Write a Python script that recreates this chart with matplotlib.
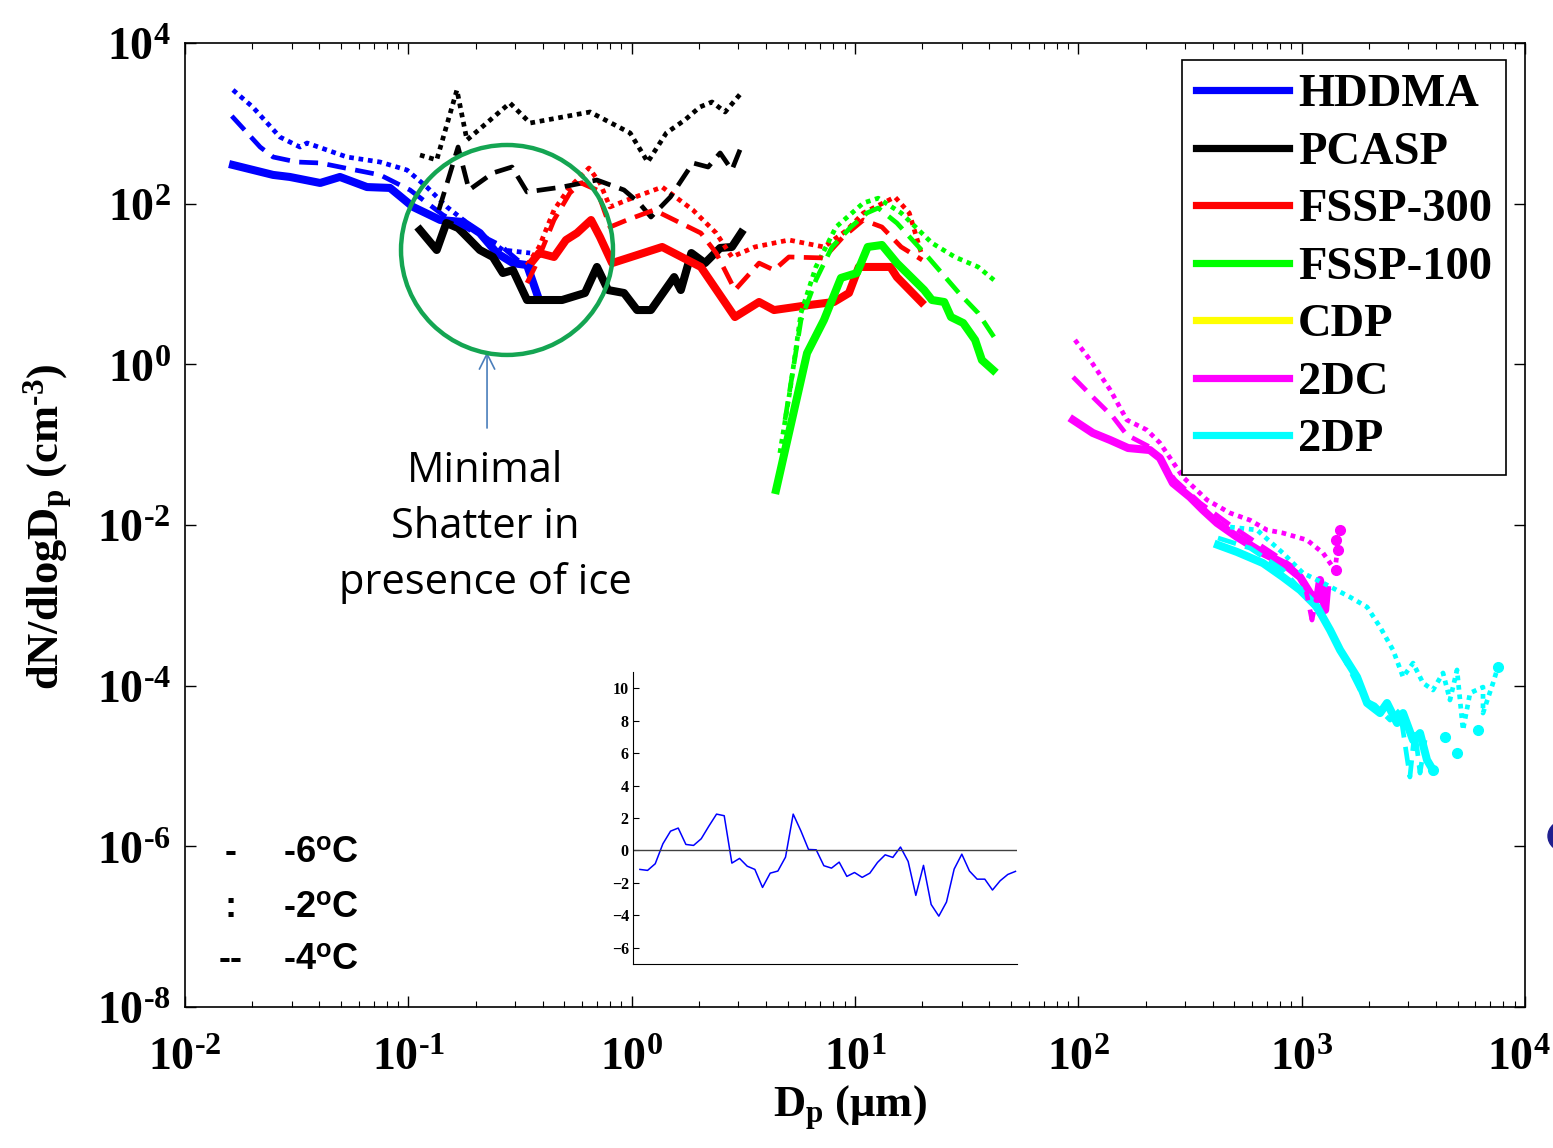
import numpy as np
import matplotlib
matplotlib.use("Agg")
import matplotlib.pyplot as plt
from matplotlib.lines import Line2D
from matplotlib.patches import Ellipse
from matplotlib.font_manager import FontProperties
from matplotlib.transforms import ScaledTranslation
from matplotlib.ticker import (FixedLocator, FuncFormatter, LogLocator,
                               NullLocator, NullFormatter)

plt.rcParams["mathtext.fontset"] = "custom"
plt.rcParams["mathtext.rm"] = "Liberation Serif:bold"
plt.rcParams["mathtext.bf"] = "Liberation Serif:bold"
plt.rcParams["mathtext.it"] = "Liberation Serif:bold"
plt.rcParams["mathtext.sf"] = "Liberation Sans:bold"

HYPHEN = "\u2010"

# ---------------- size distributions: Dp (um) and dN/dlogDp (cm^-3) ----------------
# suffix m6 = -6 C (solid), m2 = -2 C (dotted), m4 = -4 C (dashed)
hddma_dp_m6 = [0.0164, 0.0248, 0.0295, 0.0403, 0.0494, 0.0653, 0.0828, 0.105, 0.139,
               0.176, 0.209, 0.249, 0.294, 0.340, 0.381]
hddma_n_m6 = [303, 228, 215, 181, 215, 161, 157, 91, 62.6, 59.1, 43.1, 24.3, 18.2, 17.2, 6.89]
hddma_dp_m4 = [0.0162, 0.0217, 0.0248, 0.0317, 0.0403, 0.052, 0.0747, 0.1017, 0.143,
               0.189, 0.257, 0.316, 0.361]
hddma_n_m4 = [1233, 507, 381, 330, 321, 278, 228, 148, 72.3, 47, 30.6, 18.8, 15.8]
hddma_dp_m2 = [0.0164, 0.0201, 0.0266, 0.0327, 0.0352, 0.0531, 0.0747, 0.0987, 0.121,
               0.149, 0.209, 0.265, 0.351]
hddma_n_m2 = [2600, 1597, 676, 507, 569, 381, 330, 262, 161, 91, 43.1, 26.5, 24.3]

pcasp_dp_m6 = [0.1128, 0.134, 0.148, 0.167, 0.176, 0.209, 0.239, 0.265, 0.294, 0.340,
               0.488, 0.618, 0.699, 0.784, 0.924, 1.057, 1.22, 1.55, 1.66, 1.85, 2.13,
               2.49, 2.81, 3.09]
pcasp_n_m6 = [47, 26.5, 57.4, 49.8, 43.1, 26.5, 21.7, 13.7, 14.9, 6.32, 6.32, 7.73, 16.3,
              8.41, 7.73, 4.74, 4.74, 12.2, 8.41, 24.3, 18.2, 28.1, 28.9, 43.1]
pcasp_dp_m4 = [0.137, 0.167, 0.187, 0.239, 0.291, 0.340, 0.488, 0.699, 0.924, 1.08, 1.22,
               1.49, 1.88, 2.20, 2.49, 2.81, 3.09]
pcasp_n_m4 = [83.4, 507, 148, 241, 286, 140, 161, 197, 148, 102, 68.2, 121, 321, 286,
              428, 262, 507]
pcasp_dp_m2 = [0.1128, 0.134, 0.165, 0.183, 0.285, 0.351, 0.651, 0.984, 1.18, 1.43, 1.73,
               2.02, 2.29, 2.62, 3.12]
pcasp_n_m2 = [403, 350, 2600, 620, 1791, 1009, 1384, 759, 330, 759, 1100, 1597, 1845,
              1384, 2455]

fssp300_dp_m6 = [0.354, 0.385, 0.449, 0.508, 0.569, 0.658, 0.721, 0.817, 1.37, 2.04, 2.90,
                 3.72, 4.34, 6.22, 8.05, 9.40, 10.4, 14.4, 15.4, 19.8]
fssp300_n_m6 = [18.2, 24.3, 21.7, 35.3, 43.1, 62.6, 38.5, 18.2, 28.9, 16.3, 3.88, 5.97,
                4.74, 5.47, 5.97, 7.73, 16.3, 16.3, 12.2, 5.97]
fssp300_dp_m4 = [0.340, 0.369, 0.449, 0.529, 0.593, 0.699, 0.800, 0.953, 1.26, 2.04, 2.39,
                 2.90, 3.72, 4.34, 5.06, 7.26, 8.84, 10.9, 13.2, 16.1, 20.0]
fssp300_n_m4 = [10.3, 16.3, 62.6, 136, 181, 148, 51.2, 62.6, 83.4, 43.1, 24.3, 8.41, 18.2,
                14.9, 21.7, 21.1, 38.5, 62.6, 51.2, 28.9, 19.9]
fssp300_dp_m2 = [0.340, 0.385, 0.449, 0.529, 0.644, 0.721, 0.800, 0.953, 1.37, 1.88, 2.39,
                 2.81, 3.56, 5.06, 7.26, 9.21, 10.9, 15.1, 17.5, 19.8]
fssp300_n_m2 = [17.2, 28.9, 83.4, 161, 278, 181, 91, 111, 161, 83.4, 43.1, 21.7, 28.9,
                35.3, 28.9, 47, 76.5, 121, 76.5, 24.3]

fssp100_dp_m6 = [4.43, 6.10, 7.26, 8.65, 10.2, 11.4, 13.2, 15.4, 20.4, 22.1, 25.1, 26.9,
                 30.5, 34.5, 37.0, 41.5]
fssp100_n_m6 = [0.0272, 1.38, 3.56, 11.9, 13.7, 28.9, 30.6, 18.2, 8.41, 6.32, 5.97, 3.88,
                3.27, 2.01, 1.13, 0.849]
fssp100_dp_m4 = [4.86, 5.73, 6.68, 7.89, 9.59, 11.3, 12.7, 15.4, 21.2, 29.2, 35.6, 41.9]
fssp100_n_m4 = [0.203, 3.56, 11.2, 28.9, 51.2, 76.5, 88.3, 57.4, 21.7, 7.73, 4.35, 2.19]
fssp100_dp_m2 = [4.61, 5.12, 5.73, 6.68, 8.22, 10.9, 12.7, 16.1, 22.1, 28.0, 35.6, 41.9]
fssp100_n_m2 = [0.0787, 0.479, 4.35, 16.3, 51.2, 102, 117, 76.5, 32.4, 21.7, 16.3, 11.2]

twodc_dp_m6 = [94.7, 116, 139, 167, 209, 232, 265, 316, 361, 418, 514, 671, 824, 984,
               1090, 1172, 1208, 1274, 1297]
twodc_n_m6 = [0.203, 0.140, 0.114, 0.0908, 0.0857, 0.0682, 0.0333, 0.0223, 0.0154, 0.0106,
              0.00708, 0.00448, 0.00336, 0.00225, 0.00142, 0.00116, 0.00207, 0.000875,
              0.00155]
twodc_dp_m4 = [94.7, 116, 143, 165, 209, 271, 351, 478, 650, 887, 1035, 1112, 1183, 1274]
twodc_n_m4 = [0.695, 0.392, 0.221, 0.132, 0.0935, 0.0363, 0.0188, 0.0100, 0.00564,
              0.00318, 0.00179, 0.000656, 0.00155, 0.00101]
twodc_dp_m2 = [96.6, 113, 139, 165, 203, 232, 294, 377, 478, 587, 699, 824, 1057, 1247,
               1409, 1486]
twodc_n_m2 = [2.01, 1.13, 0.479, 0.203, 0.152, 0.105, 0.0396, 0.0205, 0.0141, 0.0115,
              0.00867, 0.00795, 0.0065, 0.00448, 0.00275, 0.00867]
twodc_pts_dp = [1486, 1426, 1455, 1426]
twodc_pts_n = [0.00867, 0.0065, 0.00485, 0.00275]

twodp_dp_m6 = [422, 514, 671, 824, 984, 1172, 1340, 1486, 1770, 1963, 2244, 2411, 2673,
               2844, 3153, 3388, 3640, 3873]
twodp_n_m6 = [0.00564, 0.00461, 0.00336, 0.00225, 0.00155, 0.000953, 0.000493, 0.000278,
              0.000128, 6.08e-5, 4.56e-5, 6.08e-5, 3.43e-5, 4.56e-5, 2.10e-5, 2.57e-5,
              1.19e-5, 8.9e-6]
twodp_dp_m4 = [422, 587, 824, 1090, 1340, 1644, 1922, 2130, 2487, 2754, 3053, 3212, 3388,
               3566]
twodp_n_m4 = [0.00689, 0.00516, 0.00275, 0.00116, 0.000493, 0.000157, 6.63e-5, 5.74e-5,
              3.73e-5, 4.98e-5, 7.3e-6, 2.81e-5, 8.17e-6, 2.10e-5]
twodp_dp_m2 = [478, 631, 824, 1014, 1247, 1644, 1963, 2244, 2565, 2844, 3153, 3494, 3873,
               4295, 4613, 4962, 5277, 5675, 6486, 6486, 7191, 7568]
twodp_n_m2 = [0.00944, 0.00867, 0.00448, 0.00252, 0.0019, 0.00127, 0.000953, 0.000537,
              0.000278, 0.000128, 0.000191, 0.000108, 8.83e-5, 0.000144, 6.63e-5,
              0.000157, 2.81e-5, 8.1e-5, 9.6e-5, 4.56e-5, 0.000108, 0.000171]
twodp_pts_dp = [7568, 6166, 4962, 4385, 3873]
twodp_pts_n = [0.000171, 2.81e-5, 1.45e-5, 2.30e-5, 8.9e-6]

# inset: residual series
residual = [-1.17, -1.23, -0.82, 0.41, 1.19, 1.38, 0.37, 0.31, 0.72, 1.50, 2.24, 2.14,
            -0.78, -0.49, -0.97, -1.17, -2.28, -1.40, -1.27, -0.41, 2.24, 1.21, 0.06,
            0.04, -0.94, -1.09, -0.72, -1.60, -1.36, -1.66, -1.40, -0.74, -0.27, -0.43,
            0.21, -0.68, -2.77, -0.92, -3.33, -4.05, -3.18, -1.15, -0.23, -1.27, -1.77,
            -1.77, -2.44, -1.87, -1.48, -1.29]
inset_ticks = [-6, -4, -2, 0, 2, 4, 6, 8, 10]

instruments = ["HDDMA", "PCASP", "FSSP-300", "FSSP-100", "CDP", "2DC", "2DP"]
colors = ["#0000ff", "#000000", "#ff0000", "#00ff00", "#ffff00", "#ff00ff", "#00ffff"]
temp_labels = ["-6", "-2", "-4"]
temp_marks = ["-", ":", "--"]
x_decades = [-2, -1, 0, 1, 2, 3, 4]
y_decades = [-8, -6, -4, -2, 0, 2, 4]

series = {
    "HDDMA": [(hddma_dp_m6, hddma_n_m6), (hddma_dp_m2, hddma_n_m2), (hddma_dp_m4, hddma_n_m4)],
    "PCASP": [(pcasp_dp_m6, pcasp_n_m6), (pcasp_dp_m2, pcasp_n_m2), (pcasp_dp_m4, pcasp_n_m4)],
    "FSSP-300": [(fssp300_dp_m6, fssp300_n_m6), (fssp300_dp_m2, fssp300_n_m2),
                 (fssp300_dp_m4, fssp300_n_m4)],
    "FSSP-100": [(fssp100_dp_m6, fssp100_n_m6), (fssp100_dp_m2, fssp100_n_m2),
                 (fssp100_dp_m4, fssp100_n_m4)],
    "2DC": [(twodc_dp_m6, twodc_n_m6), (twodc_dp_m2, twodc_n_m2), (twodc_dp_m4, twodc_n_m4)],
    "2DP": [(twodp_dp_m6, twodp_n_m6), (twodp_dp_m2, twodp_n_m2), (twodp_dp_m4, twodp_n_m4)],
}

W, H = 1553, 1148
fig = plt.figure(figsize=(W / 100, H / 100), dpi=100)
ax = fig.add_axes([185 / W, 141 / H, 1340 / W, 964 / H])
ax.set_xscale("log")
ax.set_yscale("log")

# solid = -6 C, dotted = -2 C, dashed = -4 C
styles = [dict(ls="-", lw=5.8),
          dict(ls=(0, (1, 1)), lw=3.4),
          dict(ls=(0, (4, 2)), lw=3.4)]
for k, st in enumerate(styles):
    for name in instruments:
        if name not in series:
            continue
        dp, n = series[name][k]
        ax.plot(dp, n, color=colors[instruments.index(name)], ls=st["ls"], lw=st["lw"],
                solid_joinstyle="round", dash_capstyle="butt", zorder=3 + k)

ax.plot(twodc_pts_dp, twodc_pts_n, ls="none", marker="o", ms=7, color="#ff00ff", zorder=5)
ax.plot(twodp_pts_dp, twodp_pts_n, ls="none", marker="o", ms=7, color="#00ffff", zorder=5)

ax.set_xlim(1e-2, 1e4)
ax.set_ylim(1e-8, 1e4)


def decade_label(v, pos):
    e = int(round(np.log10(v)))
    s = str(abs(e)) if e >= 0 else HYPHEN + str(abs(e))
    return r"$\mathbf{10^{%s}}$" % s


dec_fmt = FuncFormatter(decade_label)
ax.xaxis.set_major_locator(FixedLocator(10.0 ** np.array(x_decades)))
ax.xaxis.set_minor_locator(LogLocator(base=10, subs=np.arange(2, 10), numticks=20))
ax.xaxis.set_major_formatter(dec_fmt)
ax.xaxis.set_minor_formatter(NullFormatter())
ax.yaxis.set_major_locator(FixedLocator(10.0 ** np.array(y_decades)))
ax.yaxis.set_minor_locator(NullLocator())
ax.yaxis.set_major_formatter(dec_fmt)
ax.tick_params(which="both", direction="in", top=True, right=True, labelsize=33)
ax.tick_params(which="major", length=8, width=1.0)
ax.tick_params(which="minor", length=4, width=0.8)
ax.tick_params(axis="x", pad=20)
ax.tick_params(axis="y", pad=10)
for sp in ax.spines.values():
    sp.set_linewidth(1.2)

# keep the last x label inside the canvas
last = ax.xaxis.get_major_ticks()[-1].label1
last.set_transform(last.get_transform() + ScaledTranslation(-0.06, 0, fig.dpi_scale_trans))

# axis titles
fig.text(48 / W, 1 - 527 / H,
         r"dN/dlogD$_{\mathbf{p}}$ (cm$^{\mathbf{%s3}}$)" % HYPHEN, rotation=90,
         ha="center", va="center", family="Liberation Serif", weight="bold", size=32)
fig.text(850 / W, 1 - 1117 / H, r"D$_{\mathbf{p}}$ (μm)", ha="center", va="baseline",
         family="Liberation Serif", weight="bold", size=32)

# instrument legend
handles = [Line2D([], [], color=c, lw=5.2) for c in colors]
leg = ax.legend(handles, instruments, loc="upper right", bbox_to_anchor=(0.9858, 0.9824),
                borderaxespad=0, frameon=True, fancybox=False, framealpha=1,
                edgecolor="black", handlelength=2.0, handletextpad=0.2,
                labelspacing=0.32, borderpad=0.3,
                prop=FontProperties(family="Liberation Serif", weight="bold", size=33.5))
leg.get_frame().set_linewidth(1.2)
leg.set_zorder(10)

# temperature key
for i, (mark, t) in enumerate(zip(temp_marks, temp_labels)):
    yy = [0.160, 0.1027, 0.0488][i]
    ax.text(0.034, yy, mark, transform=ax.transAxes, ha="center", va="center",
            family="Liberation Sans", weight="bold", size=26)
    ax.text(0.073, yy, t + r"$^{\mathsf{o}}$C", transform=ax.transAxes, ha="left",
            va="center", family="Liberation Sans", weight="bold", size=26)

# annotation
ax.add_patch(Ellipse((0.2403, 0.7853), 0.1582, 0.2178, transform=ax.transAxes,
                     fill=False, edgecolor="#14a552", lw=3.2, zorder=8))
ax.annotate("", xy=(0.2254, 0.6795), xycoords="axes fraction", xytext=(0.2254, 0.6006),
            arrowprops=dict(arrowstyle="->,head_length=1.1,head_width=0.55",
                            color="#4a7ebb", lw=1.2, shrinkA=0, shrinkB=0,
                            mutation_scale=10))
ax.text(0.2239, 0.498, "Minimal\nShatter in\npresence of ice", transform=ax.transAxes,
        ha="center", va="center", family="Open Sans", size=30, linespacing=1.45)

# inset
ins = fig.add_axes([633 / W, 184 / H, 384 / W, 292 / H])
ins.plot(np.arange(len(residual)), residual, color="#0000ff", lw=1.1)
ins.axhline(0, color="#404040", lw=1.0)
ins.set_xlim(-0.9, 49.2)
ins.set_ylim(-7, 11)
ins.set_xticks([])
ins.set_yticks(inset_ticks)
ins.spines["top"].set_visible(False)
ins.spines["right"].set_visible(False)
ins.tick_params(axis="y", direction="in", length=4, width=0.8, pad=3)
for lab in ins.get_yticklabels():
    lab.set_fontfamily("Liberation Serif")
    lab.set_fontweight("bold")
    lab.set_fontsize(11.5)

# partial mark at the right edge
fig.add_artist(Ellipse((1566 / W, 1 - 836 / H), 36 / W, 32 / H,
                       transform=fig.transFigure, color="#1f1f8f", clip_on=False))

fig.savefig("out.png", dpi=100)
